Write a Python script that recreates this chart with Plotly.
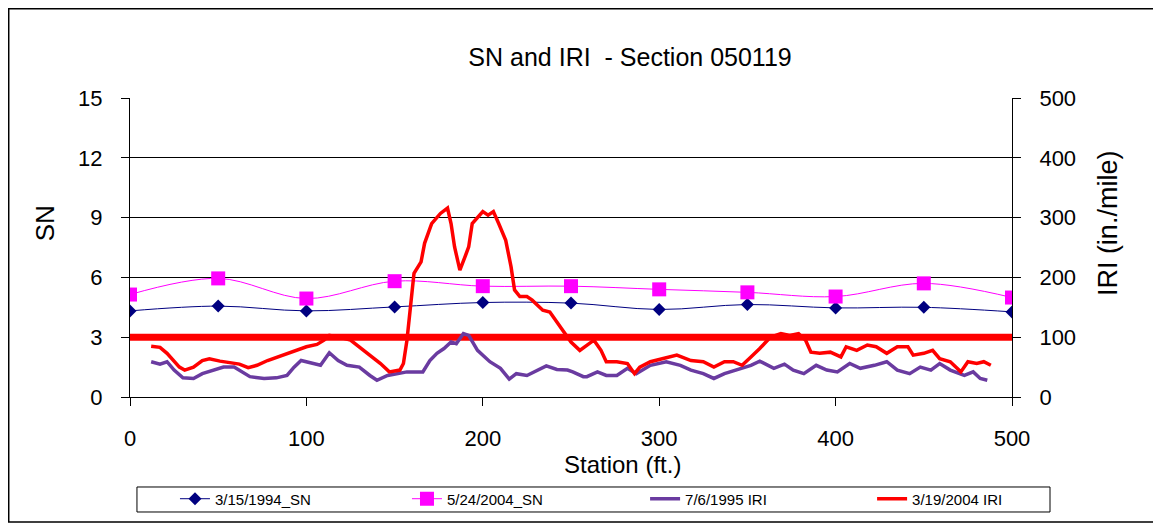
"""SN and IRI profile chart for section 050119."""

import plotly.graph_objects as go

# SN measured every 50 ft
sn_station = [0, 50, 100, 150, 200, 250, 300, 350, 400, 450, 500]
sn_1994 = [4.32, 4.56, 4.32, 4.52, 4.74, 4.71, 4.39, 4.64, 4.47, 4.50, 4.27]
sn_2004 = [5.14, 5.95, 4.94, 5.81, 5.56, 5.56, 5.40, 5.25, 5.04, 5.70, 4.99]

# IRI profiles (in./mile)
iri_1995_station = [12, 17, 21, 25, 30, 36, 41, 47, 53, 59, 64, 68, 76, 83, 89, 93, 97, 103, 108, 113,
                    118, 123, 130, 136, 140, 146, 151, 157, 163, 166, 170, 174, 178, 182, 185, 189, 192, 197, 204, 210,
                    215, 219, 225, 229, 236, 242, 248, 251, 257, 259, 265, 270, 276, 282, 287, 295, 304, 312, 318, 325,
                    331, 337, 344, 352, 357, 365, 371, 376, 382, 389, 395, 401, 408, 414, 422, 429, 435, 442, 448, 454,
                    459, 465, 473, 478, 482, 486]
iri_1995 = [59, 55, 59, 45, 32, 31, 39, 45, 50, 50, 42, 34, 31, 32, 36, 50, 61, 56, 53, 74,
            61, 53, 50, 36, 28, 36, 39, 42, 42, 42, 61, 73, 81, 92, 89, 106, 103, 78, 59, 48,
            30, 39, 36, 42, 52, 46, 45, 42, 34, 34, 42, 36, 36, 48, 39, 53, 59, 53, 45, 39,
            31, 39, 45, 53, 60, 48, 55, 45, 39, 53, 45, 42, 56, 48, 53, 59, 45, 39, 50, 45,
            56, 45, 36, 42, 31, 28]

iri_2004_station = [12, 17, 21, 25, 28, 31, 36, 41, 45, 51, 57, 62, 67, 72, 78, 83, 89, 95, 100, 106,
                    110, 113, 119, 125, 130, 136, 142, 147, 153, 155, 157, 159, 161, 165, 167, 171, 176, 180, 182, 184,
                    187, 190, 192, 194, 198, 200, 203, 206, 209, 213, 216, 218, 221, 225, 228, 231, 234, 238, 242, 246,
                    250, 255, 259, 263, 267, 270, 276, 282, 286, 289, 295, 302, 310, 318, 325, 331, 337, 342, 347, 352,
                    357, 363, 369, 374, 379, 383, 386, 391, 397, 403, 406, 412, 418, 423, 429, 435, 441, 444, 450, 455,
                    459, 465, 471, 475, 480, 484, 488]
iri_2004 = [85, 83, 73, 61, 50, 45, 50, 61, 64, 60, 57, 55, 49, 53, 61, 66, 73, 79, 84, 88,
            95, 103, 100, 95, 84, 70, 56, 42, 45, 56, 95, 151, 207, 226, 257, 290, 307, 316, 290, 251,
            212, 235, 251, 290, 302, 310, 304, 310, 290, 262, 218, 179, 168, 168, 162, 154, 145, 142, 126, 109,
            92, 78, 87, 95, 78, 59, 59, 56, 39, 50, 59, 64, 70, 61, 59, 50, 59, 59, 53, 67,
            81, 100, 106, 103, 106, 95, 75, 73, 75, 67, 84, 78, 87, 84, 73, 84, 84, 70, 73, 78,
            64, 59, 42, 59, 56, 59, 53]

threshold_station = [0, 500]
threshold_sn = [3, 3]

FONT = "Liberation Sans, Arial, sans-serif"

fig = go.Figure()

fig.add_trace(go.Scatter(
    x=threshold_station, y=threshold_sn, mode="lines", showlegend=False,
    line=dict(color="#ff0000", width=7), hoverinfo="skip",
))
fig.add_trace(go.Scatter(
    x=sn_station, y=sn_1994, mode="lines+markers", name="3/15/1994_SN", legend="legend",
    line=dict(color="#000080", width=1, shape="spline"),
    marker=dict(symbol="diamond", size=10, color="#000080"),
))
fig.add_trace(go.Scatter(
    x=sn_station, y=sn_2004, mode="lines+markers", name="5/24/2004_SN", legend="legend",
    line=dict(color="#ff00ff", width=1, shape="spline"),
    marker=dict(symbol="square", size=14, color="#ff00ff"),
))
fig.add_trace(go.Scatter(
    x=iri_1995_station, y=iri_1995, mode="lines", name="7/6/1995 IRI", yaxis="y2", legend="legend2",
    line=dict(color="#6a3ba0", width=3.5),
))
fig.add_trace(go.Scatter(
    x=iri_2004_station, y=iri_2004, mode="lines", name="3/19/2004 IRI", yaxis="y2", legend="legend2",
    line=dict(color="#ff0000", width=3.5),
))

axis_common = dict(
    showline=True, linecolor="black", linewidth=1, mirror=False,
    ticks="outside", ticklen=8, tickcolor="black",
    tickfont=dict(family=FONT, size=22, color="black"),
    zeroline=False, automargin=False,
)

legend_common = dict(
    orientation="h", xanchor="left", y=-0.341, yanchor="middle",
    borderwidth=0, bgcolor="rgba(0,0,0,0)", itemwidth=30,
    entrywidthmode="pixels",
    font=dict(family=FONT, size=15, color="black"),
)

# page sits 8px in from the window corner, so the figure is 8px smaller
fig.update_layout(
    width=1153, height=519,
    margin=dict(l=122, r=149, t=90, b=130),
    paper_bgcolor="white", plot_bgcolor="white",
    font=dict(family=FONT, color="black"),
    title=dict(text="SN and IRI  - Section 050119", x=0.5395, xref="container", xanchor="center",
               y=0.9056, yref="container", yanchor="middle",
               font=dict(family=FONT, size=25, color="black")),
    xaxis=dict(range=[0, 500], tickvals=[0, 100, 200, 300, 400, 500], showgrid=False,
               ticklabelstandoff=14, **axis_common),
    yaxis=dict(range=[0, 15], tickvals=[0, 3, 6, 9, 12, 15], showgrid=True, gridcolor="black",
               gridwidth=1, ticklabelstandoff=14, **axis_common),
    yaxis2=dict(range=[0, 500], tickvals=[0, 100, 200, 300, 400, 500], overlaying="y", side="right",
                showgrid=False, ticklabelstandoff=14, **axis_common),
    showlegend=True,
    legend=dict(x=0.051, entrywidth=187, **legend_common),
    legend2=dict(x=0.584, entrywidth=182, **legend_common),
    annotations=[
        dict(text="Station (ft.)", xref="paper", yref="paper", x=0.558, y=-0.227,
             xanchor="center", yanchor="middle", showarrow=False,
             font=dict(family=FONT, size=24, color="black")),
        dict(text="SN", xref="paper", yref="paper", x=-0.096, y=0.582, textangle=-90,
             xanchor="center", yanchor="middle", showarrow=False,
             font=dict(family=FONT, size=26, color="black")),
        dict(text="IRI (in./mile)", xref="paper", yref="paper", x=1.109, y=0.582, textangle=-90,
             xanchor="center", yanchor="middle", showarrow=False,
             font=dict(family=FONT, size=27, color="black")),
    ],
    shapes=[
        # outer chart frame
        dict(type="rect", xref="paper", yref="paper", x0=-0.1375, x1=1.1621, y0=-0.418, y1=1.2985,
             line=dict(color="black", width=1.5), layer="below"),
        # legend frame
        dict(type="rect", xref="paper", yref="paper", x0=0.0079, x1=1.0431, y0=-0.3846, y1=-0.301,
             line=dict(color="black", width=1), layer="below"),
    ],
)

fig.write_html("out.html")
